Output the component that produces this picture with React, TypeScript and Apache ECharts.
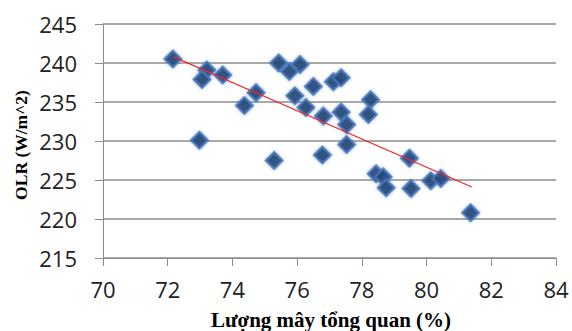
import React, { useEffect, useRef } from "react";
import * as echarts from "echarts";

const cloudCover = [72.16, 73.21, 73.06, 73.7, 74.37, 74.73, 72.98, 75.29, 75.43, 76.09, 75.76, 76.5, 77.12, 77.36, 75.93, 76.27, 76.81, 77.36, 77.53, 78.27, 78.2, 77.53, 76.78, 79.47, 78.44, 78.66, 78.75, 79.52, 80.13, 80.44, 81.36];
const olr = [240.5, 239.1, 237.9, 238.45, 234.56, 236.2, 230.1, 227.5, 240.0, 239.8, 238.9, 237.0, 237.6, 238.1, 235.8, 234.3, 233.2, 233.7, 232.1, 235.3, 233.4, 229.55, 228.2, 227.8, 225.8, 225.4, 224.0, 223.9, 224.9, 225.2, 220.8];
const trendX = [72.2, 81.4];
const trendY = [240.75, 224.1];
const xTicks = [70, 84, 2];
const yTicks = [215, 245, 5];
const xTitle = "Lượng mây tổng quan (%)";
const yTitle = "OLR (W/m^2)";

export default function App() {
  const ref = useRef<HTMLDivElement>(null);
  useEffect(() => {
    if (!ref.current) return;
    const chart = echarts.init(ref.current, null, { renderer: "svg" });
    const points = cloudCover.map((x, i) => [x, olr[i]]);
    const trend = trendX.map((x, i) => [x, trendY[i]]);
    chart.setOption({
      animation: false,
      backgroundColor: "#ffffff",
      grid: { left: 103, right: 16, top: 24, bottom: 73 },
      graphic: [
        {
          type: "text",
          x: 331,
          y: 320,
          style: { text: xTitle, fontFamily: "Liberation Serif", fontWeight: "bold", fontSize: 21, fill: "#000", align: "center", verticalAlign: "middle" },
        },
        {
          type: "text",
          x: 21,
          y: 145,
          rotation: Math.PI / 2,
          style: { text: yTitle, fontFamily: "Liberation Serif", fontWeight: "bold", fontSize: 17.5, fill: "#000", align: "center", verticalAlign: "middle" },
        },
      ],
      xAxis: {
        type: "value",
        min: xTicks[0],
        max: xTicks[1],
        interval: xTicks[2],
        axisLine: { show: true, lineStyle: { color: "#8c8c8c", width: 1 } },
        axisTick: { show: true, inside: false, length: 8, lineStyle: { color: "#8c8c8c" } },
        axisLabel: { fontFamily: "Open Sans", fontSize: 22, color: "#222", margin: 20 },
        splitLine: { show: false },
      },
      yAxis: {
        type: "value",
        min: yTicks[0],
        max: yTicks[1],
        interval: yTicks[2],
        axisLine: { show: true, lineStyle: { color: "#8c8c8c", width: 1 } },
        axisTick: { show: true, inside: false, length: 8, lineStyle: { color: "#8c8c8c" } },
        axisLabel: { fontFamily: "Open Sans", fontSize: 22, color: "#222", margin: 26 },
        splitLine: { show: true, lineStyle: { color: "#8c8c8c", width: 1.5 } },
      },
      series: [
        {
          type: "scatter",
          data: points,
          symbol: "diamond",
          symbolSize: 16,
          itemStyle: { color: "#193a67", borderColor: "#4677b8", borderWidth: 2.5, shadowBlur: 3, shadowColor: "rgba(70,120,190,0.8)" },
          z: 2,
        },
        {
          type: "line",
          data: trend,
          symbol: "none",
          lineStyle: { color: "#f5222d", width: 1.2 },
          z: 3,
        },
      ],
    });
    return () => chart.dispose();
  }, []);
  return <div ref={ref} style={{ position: "fixed", left: 0, top: 0, width: 572, height: 331 }} />;
}
